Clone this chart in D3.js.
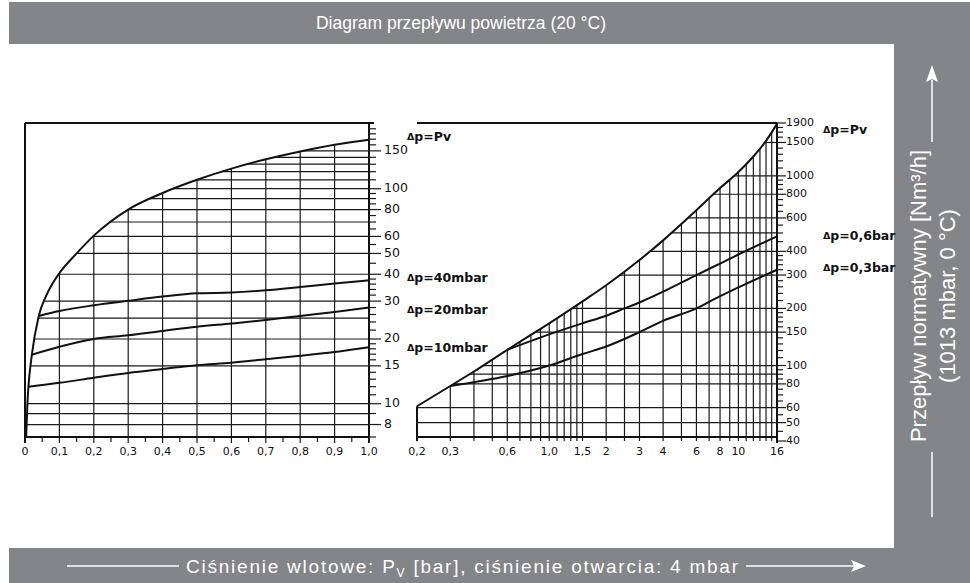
<!DOCTYPE html>
<head>
<meta charset="utf-8">
<script src="https://cdn.jsdelivr.net/npm/d3@7"></script>
<style>
  body { margin:0; background:#fff; }
  svg text { font-family:"DejaVu Sans", sans-serif; fill:#111; }
  svg text.band { font-family:"Liberation Sans", Arial, sans-serif; fill:#fff; }
  .grid { stroke:#1a1a1a; stroke-width:1.2; }
  .curve { fill:none; stroke:#111; stroke-width:2; }
  .frame { stroke:#111; stroke-width:2; }
</style>
</head>
<body>
<script>
var width = 970, height = 583;
var gray = "#848589";

// ---- left diagram, 0..1 bar ----
var leftTicksX = [0, 0.1, 0.2, 0.3, 0.4, 0.5, 0.6, 0.7, 0.8, 0.9, 1.0];
var leftTickLabelsX = ["0", "0,1", "0,2", "0,3", "0,4", "0,5", "0,6", "0,7", "0,8", "0,9", "1,0"];
var leftMinorX = [0.05, 0.15, 0.25, 0.35, 0.45, 0.55, 0.65, 0.75, 0.85, 0.95];
var leftLabelsY = [8, 10, 15, 20, 30, 40, 50, 60, 80, 100, 150];
var leftMinorY = [7, 9, 11, 12, 13, 14, 16, 17, 18, 19, 22, 24, 26, 28, 32, 34, 36, 38, 45, 55, 65, 70, 75, 85, 90, 95, 110, 120, 130, 140, 160, 170, 180, 190];
var leftGridX = [0.1, 0.2, 0.3, 0.4, 0.5, 0.6, 0.7, 0.8, 0.9];
var leftGridY = [8, 9, 10, 15, 20, 25, 30, 40, 50, 60, 70, 80, 90, 100, 110, 120, 130, 140, 150];

var leftPvP = [0.0034, 0.007, 0.01, 0.02, 0.04, 0.06, 0.08, 0.1, 0.15, 0.2, 0.3, 0.4, 0.5, 0.6, 0.7, 0.8, 0.9, 1.0];
var leftPvQ = [7, 10, 12, 16.9, 25.6, 31.4, 36.2, 40.5, 50, 60.5, 80, 95.5, 110, 124, 137, 149, 160, 169];
var left40P = [0.04, 0.1, 0.2, 0.3, 0.4, 0.5, 0.6, 0.7, 0.8, 0.9, 1.0];
var left40Q = [25.6, 27.0, 28.7, 30.1, 31.5, 32.6, 32.9, 33.7, 34.9, 36.2, 37.5];
var left20P = [0.02, 0.1, 0.2, 0.3, 0.4, 0.5, 0.6, 0.7, 0.8, 0.9, 1.0];
var left20Q = [16.9, 18.4, 20.0, 20.8, 21.8, 22.8, 23.6, 24.5, 25.6, 26.7, 28.0];
var left10P = [0.01, 0.1, 0.2, 0.3, 0.4, 0.5, 0.6, 0.7, 0.8, 0.9, 1.0];
var left10Q = [12, 12.5, 13.2, 13.9, 14.5, 15.1, 15.5, 16.1, 16.7, 17.4, 18.3];

// ---- right diagram, 0.2..16 bar ----
var rightTicksX = [0.2, 0.3, 0.6, 1.0, 1.5, 2, 3, 4, 6, 8, 10, 16];
var rightTickLabelsX = ["0,2", "0,3", "0,6", "1,0", "1,5", "2", "3", "4", "6", "8", "10", "16"];
var rightLabelsY = [40, 50, 60, 80, 100, 150, 200, 300, 400, 600, 800, 1000, 1500, 1900];
var rightMinorY = [45, 55, 65, 70, 75, 85, 90, 95, 110, 120, 130, 140, 160, 170, 180, 190, 220, 240, 260, 280, 320, 340, 360, 380, 450, 500, 550, 650, 700, 750, 850, 900, 950, 1100, 1200, 1300, 1400, 1600, 1700, 1800];
var rightGridX = [0.3, 0.4, 0.5, 0.6, 0.7, 0.8, 0.9, 1.0, 1.1, 1.2, 1.3, 1.4, 1.5, 2, 2.5, 3, 4, 5, 6, 7, 8, 9, 10, 11, 12, 13, 14, 15];
var rightGridY = [50, 60, 80, 90, 100, 150, 200, 300, 400, 500, 600, 800, 1000, 1500];

var rightPvP = [0.2, 0.3, 0.4, 0.6, 0.8, 1, 1.5, 2, 3, 4, 6, 8, 10, 12, 14, 16];
var rightPvQ = [61, 78, 93, 121, 145, 167, 218, 265, 360, 457, 659, 862, 1047, 1265, 1530, 1880];
var right06P = [0.6, 1, 1.5, 2, 2.5, 3, 4, 6, 8, 10, 16];
var right06Q = [121, 146, 167, 183, 200, 215, 245, 300, 345, 385, 480];
var right03P = [0.3, 0.6, 1, 1.5, 2, 3, 4, 6, 8, 10, 16];
var right03Q = [78, 88, 100, 115, 126, 150, 172, 200, 232, 258, 320];

var svg = d3.select("body").append("svg")
  .attr("width", width).attr("height", height);

// grey bands
svg.append("rect").attr("x", 9).attr("y", 2).attr("width", 961).attr("height", 42).attr("fill", gray);
svg.append("rect").attr("x", 894).attr("y", 2).attr("width", 76).attr("height", 581).attr("fill", gray);
svg.append("rect").attr("x", 9).attr("y", 548).attr("width", 961).attr("height", 35).attr("fill", gray);

svg.append("text").attr("class", "band")
  .attr("x", 461).attr("y", 29).attr("text-anchor", "middle")
  .attr("font-size", 17.5).text("Diagram przepływu powietrza (20 °C)");

var bt = svg.append("text").attr("class", "band")
  .attr("x", 186).attr("y", 573).attr("font-size", 19)
  .attr("textLength", 552).attr("lengthAdjust", "spacing");
bt.append("tspan").text("Ciśnienie wlotowe: P");
bt.append("tspan").attr("font-size", 12).attr("dy", 4).text("V");
bt.append("tspan").attr("dy", -4).text(" [bar], ciśnienie otwarcia: 4 mbar");

svg.append("line").attr("x1", 67).attr("x2", 179).attr("y1", 566).attr("y2", 566).attr("stroke", "#fff").attr("stroke-width", 1.5);
svg.append("line").attr("x1", 746).attr("x2", 858).attr("y1", 566).attr("y2", 566).attr("stroke", "#fff").attr("stroke-width", 1.5);
svg.append("path").attr("d", "M866,566 L851,560 L854,566 L851,572 Z").attr("fill", "#fff");

var rt = svg.append("g").attr("transform", "translate(932,296) rotate(-90)");
rt.append("text").attr("class", "band").attr("x", 0).attr("y", -6).attr("text-anchor", "middle")
  .attr("font-size", 22).text("Przepływ normatywny [Nm³/h]");
rt.append("text").attr("class", "band").attr("x", 0).attr("y", 23).attr("text-anchor", "middle")
  .attr("font-size", 22).text("(1013 mbar, 0 °C)");
svg.append("line").attr("x1", 932).attr("x2", 932).attr("y1", 80).attr("y2", 142).attr("stroke", "#fff").attr("stroke-width", 1.5);
svg.append("line").attr("x1", 932).attr("x2", 932).attr("y1", 452).attr("y2", 517).attr("stroke", "#fff").attr("stroke-width", 1.5);
svg.append("path").attr("d", "M932,65 L926,82 L932,79 L938,82 Z").attr("fill", "#fff");

// helpers
function sample(path) {
  var n = path.node(), L = n.getTotalLength(), pts = [];
  for (var i = 0; i <= 800; i++) { var p = n.getPointAtLength(L * i / 800); pts.push([p.x, p.y]); }
  return pts;
}
function xAtY(pts, y) {
  for (var i = 0; i < pts.length - 1; i++) {
    var a = pts[i], b = pts[i + 1];
    if ((a[1] - y) * (b[1] - y) <= 0 && a[1] != b[1]) return a[0] + (b[0] - a[0]) * (y - a[1]) / (b[1] - a[1]);
  }
  return null;
}
function yAtX(pts, x) {
  for (var i = 0; i < pts.length - 1; i++) {
    var a = pts[i], b = pts[i + 1];
    if ((a[0] - x) * (b[0] - x) <= 0 && a[0] != b[0]) return a[1] + (b[1] - a[1]) * (x - a[0]) / (b[0] - a[0]);
  }
  return null;
}
function dlabel(x, y, txt) {
  var t = svg.append("text").attr("x", x).attr("y", y).attr("font-size", 12.5).attr("font-weight", "bold")
    .attr("dominant-baseline", "middle");
  t.append("tspan").attr("font-size", 9.5).text("Δ");
  t.append("tspan").text(txt);
}

// ===== left chart =====
var lx = d3.scaleLinear().domain([0, 1]).range([25, 369]);
var ly = d3.scaleLog().domain([7, 200]).range([437, 124]);
var lineL = function (P, Q) { return d3.line().curve(d3.curveMonotoneX)(P.map(function (p, i) { return [lx(p), ly(Q[i])]; })); };

var gL = svg.append("g");
var pvL = gL.append("path").attr("class", "curve").attr("d", lineL(leftPvP, leftPvQ));
var ptsL = sample(pvL);

gL.selectAll(".hl").data(leftGridY).enter().append("line").attr("class", "grid")
  .attr("x1", function (d) { var x = xAtY(ptsL, ly(d)); return x == null ? lx(0) : x; })
  .attr("x2", lx(1)).attr("y1", function (d) { return ly(d); }).attr("y2", function (d) { return ly(d); });
gL.selectAll(".vl").data(leftGridX).enter().append("line").attr("class", "grid")
  .attr("x1", function (d) { return lx(d); }).attr("x2", function (d) { return lx(d); })
  .attr("y1", 443).attr("y2", function (d) { return yAtX(ptsL, lx(d)); });
gL.selectAll(".mx").data(leftMinorX).enter().append("line").attr("class", "grid")
  .attr("x1", function (d) { return lx(d); }).attr("x2", function (d) { return lx(d); })
  .attr("y1", 437).attr("y2", 442);

gL.append("path").attr("class", "curve").attr("d", lineL(left40P, left40Q));
gL.append("path").attr("class", "curve").attr("d", lineL(left20P, left20Q));
gL.append("path").attr("class", "curve").attr("d", lineL(left10P, left10Q));
pvL.raise();

// frame
gL.append("line").attr("class", "frame").attr("x1", lx(0)).attr("x2", lx(0)).attr("y1", 123).attr("y2", 443);
gL.append("line").attr("class", "frame").attr("x1", lx(0)).attr("x2", 374).attr("y1", 123).attr("y2", 123);
gL.append("line").attr("class", "frame").attr("x1", lx(0)).attr("x2", lx(1)).attr("y1", 437).attr("y2", 437);
gL.append("line").attr("class", "frame").attr("x1", lx(1)).attr("x2", lx(1)).attr("y1", 123).attr("y2", 443);

gL.selectAll(".my").data(leftMinorY).enter().append("line").attr("class", "grid")
  .attr("x1", lx(1)).attr("x2", lx(1) + 7).attr("y1", function (d) { return ly(d); }).attr("y2", function (d) { return ly(d); });
gL.selectAll(".Ly").data(leftLabelsY).enter().append("line").attr("class", "grid")
  .attr("x1", lx(1)).attr("x2", lx(1) + 12).attr("y1", function (d) { return ly(d); }).attr("y2", function (d) { return ly(d); });
gL.selectAll(".ty").data(leftLabelsY).enter().append("text")
  .attr("x", lx(1) + 15).attr("y", function (d) { return ly(d); }).attr("dominant-baseline", "middle")
  .attr("font-size", 12.5).text(function (d) { return d; });
gL.selectAll(".tx").data(leftTicksX).enter().append("text")
  .attr("x", function (d) { return lx(d); }).attr("y", 455).attr("text-anchor", "middle")
  .attr("font-size", 11).text(function (d, i) { return leftTickLabelsX[i]; });

dlabel(407, 137, "p=Pv");
dlabel(407, 278, "p=40mbar");
dlabel(407, 310, "p=20mbar");
dlabel(407, 348, "p=10mbar");

// ===== right chart =====
var rx = d3.scaleLog().domain([0.2, 16]).range([417, 777]);
var ry = d3.scaleLog().domain([40, 1900]).range([441, 123]);
var lineR = function (P, Q) { return d3.line().curve(d3.curveMonotoneX)(P.map(function (p, i) { return [rx(p), ry(Q[i])]; })); };

var gR = svg.append("g");
var pvR = gR.append("path").attr("class", "curve").attr("d", lineR(rightPvP, rightPvQ));
var ptsR = sample(pvR);

gR.selectAll(".hl").data(rightGridY).enter().append("line").attr("class", "grid")
  .attr("x1", function (d) { var y = ry(d); return y > ptsR[0][1] ? rx(0.2) : xAtY(ptsR, y); })
  .attr("x2", rx(16)).attr("y1", function (d) { return ry(d); }).attr("y2", function (d) { return ry(d); });
gR.selectAll(".vl").data(rightGridX).enter().append("line").attr("class", "grid")
  .attr("x1", function (d) { return rx(d); }).attr("x2", function (d) { return rx(d); })
  .attr("y1", 441).attr("y2", function (d) { return yAtX(ptsR, rx(d)); });

gR.append("path").attr("class", "curve").attr("d", lineR(right06P, right06Q));
gR.append("path").attr("class", "curve").attr("d", lineR(right03P, right03Q));
pvR.raise();

gR.append("line").attr("class", "frame").attr("x1", rx(0.2)).attr("x2", rx(0.2)).attr("y1", 441).attr("y2", ptsR[0][1]);
gR.append("line").attr("class", "frame").attr("x1", rx(0.2)).attr("x2", rx(16)).attr("y1", 123).attr("y2", 123);
gR.append("line").attr("class", "frame").attr("x1", rx(0.2)).attr("x2", rx(16)).attr("y1", 437).attr("y2", 437);
gR.append("line").attr("class", "frame").attr("x1", rx(16)).attr("x2", rx(16)).attr("y1", 123).attr("y2", 443);

gR.selectAll(".my").data(rightMinorY).enter().append("line").attr("class", "grid")
  .attr("x1", rx(16)).attr("x2", rx(16) + 6).attr("y1", function (d) { return ry(d); }).attr("y2", function (d) { return ry(d); });
gR.selectAll(".Ly").data(rightLabelsY).enter().append("line").attr("class", "grid")
  .attr("x1", rx(16)).attr("x2", rx(16) + 9).attr("y1", function (d) { return ry(d); }).attr("y2", function (d) { return ry(d); });
gR.selectAll(".ty").data(rightLabelsY).enter().append("text")
  .attr("x", rx(16) + 9).attr("y", function (d) { return ry(d); }).attr("dominant-baseline", "middle")
  .attr("font-size", 11).text(function (d) { return d; });
gR.selectAll(".tx").data(rightTicksX).enter().append("text")
  .attr("x", function (d) { return rx(d); }).attr("y", 455).attr("text-anchor", "middle")
  .attr("font-size", 11).text(function (d, i) { return rightTickLabelsX[i]; });

dlabel(823, 130, "p=Pv");
dlabel(823, 236, "p=0,6bar");
dlabel(823, 268, "p=0,3bar");
</script>
</body>
